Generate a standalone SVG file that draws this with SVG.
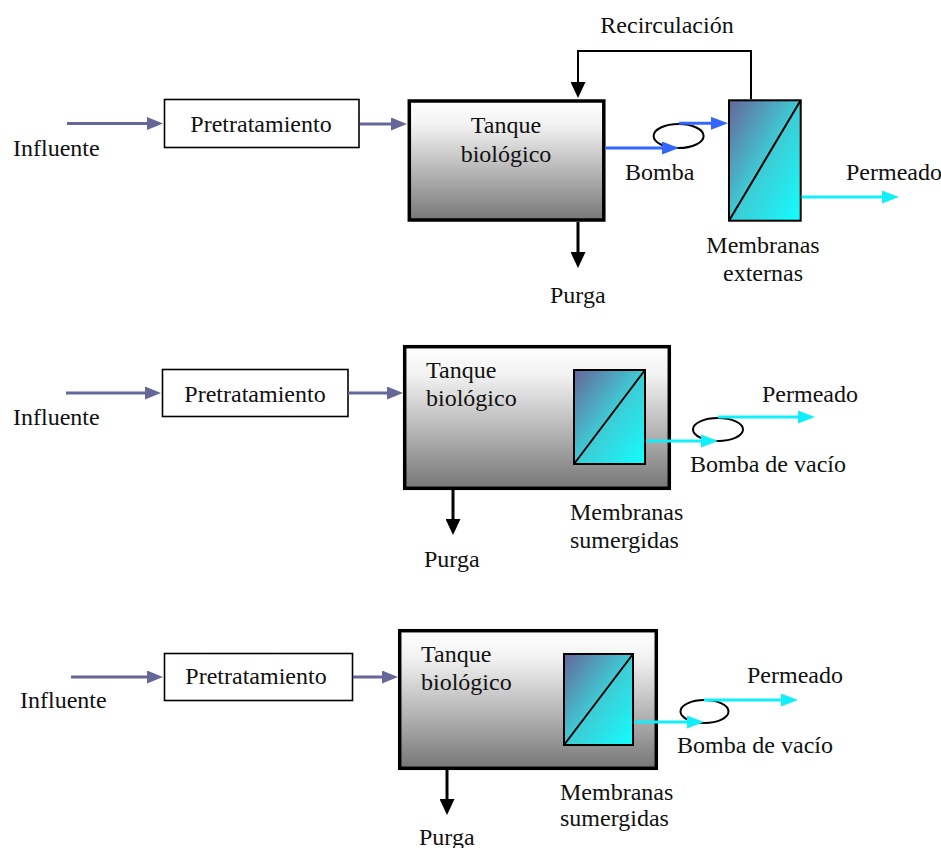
<svg xmlns="http://www.w3.org/2000/svg" width="941" height="848" viewBox="0 0 941 848">
<defs>
<style>
text{font-family:"Liberation Serif","Times New Roman",serif;font-size:24px;fill:#111}
.box{fill:#fff;stroke:#000;stroke-width:1.6}
.tank{fill:url(#gTank);stroke:#000;stroke-width:3.5}
.mem{fill:url(#gMem);stroke:#000;stroke-width:2}
.diag{stroke:#000;stroke-width:2}
.pump{fill:none;stroke:#000;stroke-width:2}
.slate{stroke:#666699;stroke-width:3;fill:none;marker-end:url(#mSlate)}
.blue{stroke:#3366ff;stroke-width:3;fill:none;marker-end:url(#mBlue)}
.cyan{stroke:#11f0fa;stroke-width:3;fill:none;marker-end:url(#mCyan)}
.black{stroke:#000;stroke-width:3;fill:none;marker-end:url(#mBlack)}
.recirc{stroke:#000;stroke-width:2;fill:none;marker-end:url(#mBlack)}
</style>
<linearGradient id="gTank" x1="0" y1="0" x2="0" y2="1">
<stop offset="0" stop-color="#ffffff"/>
<stop offset="0.2" stop-color="#f2f2f2"/>
<stop offset="1" stop-color="#777777"/>
</linearGradient>
<linearGradient id="gMem" x1="0" y1="0" x2="1" y2="1">
<stop offset="0" stop-color="#666699"/>
<stop offset="0.5" stop-color="#3fcad4"/>
<stop offset="1" stop-color="#11ffff"/>
</linearGradient>
<marker id="mSlate" markerUnits="userSpaceOnUse" markerWidth="16" markerHeight="14" refX="6" refY="6.5" orient="auto"><path d="M0,0 L16,6.5 L0,13 z" fill="#666699"/></marker>
<marker id="mBlue" markerUnits="userSpaceOnUse" markerWidth="17" markerHeight="14" refX="7" refY="6.5" orient="auto"><path d="M0,0 L17,6.5 L0,13 z" fill="#3366ff"/></marker>
<marker id="mCyan" markerUnits="userSpaceOnUse" markerWidth="17" markerHeight="14" refX="7" refY="6.5" orient="auto"><path d="M0,0 L17,6.5 L0,13 z" fill="#11f0fa"/></marker>
<marker id="mBlack" markerUnits="userSpaceOnUse" markerWidth="16" markerHeight="15" refX="6" refY="7.5" orient="auto"><path d="M0,0 L16,7.5 L0,15 z" fill="#000"/></marker>
</defs>

<!-- Section 1 -->
<g id="s1-influente"><text x="13" y="156">Influente</text></g>
<g id="s1-pretratamiento"><rect class="box" x="164.5" y="99.5" width="194.5" height="48"/><text x="261" y="132" text-anchor="middle">Pretratamiento</text></g>
<g id="s1-tanque"><rect class="tank" x="409.3" y="101" width="194.5" height="119"/><text x="506" y="133" text-anchor="middle">Tanque</text><text x="506" y="162" text-anchor="middle">biológico</text></g>
<g id="s1-bomba"><ellipse class="pump" cx="678.6" cy="136" rx="25" ry="12"/><text x="625" y="180">Bomba</text></g>
<g id="s1-membranas"><rect class="mem" x="729" y="100.3" width="71.7" height="120.4"/><line class="diag" x1="729" y1="220.7" x2="800.7" y2="100.3"/><text x="763" y="253" text-anchor="middle">Membranas</text><text x="763" y="281" text-anchor="middle">externas</text></g>
<g id="s1-labels"><text x="667" y="33" text-anchor="middle">Recirculación</text><text x="846" y="180">Permeado</text><text x="550" y="303">Purga</text></g>

<!-- Section 2 -->
<g id="s2-influente"><text x="13" y="425">Influente</text></g>
<g id="s2-pretratamiento"><rect class="box" x="162.5" y="369.5" width="185.5" height="47"/><text x="255" y="402" text-anchor="middle">Pretratamiento</text></g>
<g id="s2-tanque"><rect class="tank" x="404.7" y="346.7" width="264.6" height="141.6"/><text x="426" y="378">Tanque</text><text x="426" y="406">biológico</text></g>
<g id="s2-membranas"><rect class="mem" x="574" y="370" width="71" height="94"/><line class="diag" x1="574" y1="464" x2="645" y2="370"/><text x="570" y="520">Membranas</text><text x="570" y="548">sumergidas</text></g>
<g id="s2-bomba"><ellipse class="pump" cx="718" cy="429.5" rx="25" ry="11.5"/><text x="690" y="472">Bomba de vacío</text></g>
<g id="s2-labels"><text x="762" y="402">Permeado</text><text x="424" y="567">Purga</text></g>

<!-- Section 3 -->
<g id="s3-influente"><text x="20" y="708">Influente</text></g>
<g id="s3-pretratamiento"><rect class="box" x="164.5" y="653.5" width="188" height="47"/><text x="256" y="684" text-anchor="middle">Pretratamiento</text></g>
<g id="s3-tanque"><rect class="tank" x="399.7" y="630.7" width="256.6" height="137.6"/><text x="421" y="662">Tanque</text><text x="421" y="690">biológico</text></g>
<g id="s3-membranas"><rect class="mem" x="564" y="654" width="69" height="91"/><line class="diag" x1="564" y1="745" x2="633" y2="654"/><text x="560" y="800">Membranas</text><text x="560" y="826">sumergidas</text></g>
<g id="s3-bomba"><ellipse class="pump" cx="704.5" cy="711.5" rx="24" ry="11.5"/><text x="677" y="753">Bomba de vacío</text></g>
<g id="s3-labels"><text x="747" y="683">Permeado</text><text x="419" y="845">Purga</text></g>

<g id="connectors">
<!-- S1 -->
<line class="slate" x1="67" y1="123.5" x2="153" y2="123.5"/>
<line class="slate" x1="360" y1="124" x2="397" y2="124"/>
<line class="blue" x1="606" y1="148" x2="669" y2="148"/>
<line class="blue" x1="679" y1="123.3" x2="718" y2="123.3"/>
<line class="cyan" x1="801.7" y1="197" x2="889" y2="197"/>
<polyline class="recirc" points="751,99.3 751,51 578,51 578,88"/>
<line class="black" x1="578" y1="222" x2="578" y2="258"/>
<!-- S2 -->
<line class="slate" x1="66" y1="393" x2="151" y2="393"/>
<line class="slate" x1="348" y1="393" x2="393" y2="393"/>
<line class="cyan" x1="646" y1="441" x2="708" y2="441"/>
<line class="cyan" x1="718" y1="417" x2="805" y2="417"/>
<line class="black" x1="453" y1="490" x2="453" y2="525"/>
<!-- S3 -->
<line class="slate" x1="71" y1="677" x2="153" y2="677"/>
<line class="slate" x1="353" y1="677" x2="388" y2="677"/>
<line class="cyan" x1="634" y1="722" x2="694" y2="722"/>
<line class="cyan" x1="704" y1="700" x2="788" y2="700"/>
<line class="black" x1="447" y1="770" x2="447" y2="805"/>
</g>
</svg>
